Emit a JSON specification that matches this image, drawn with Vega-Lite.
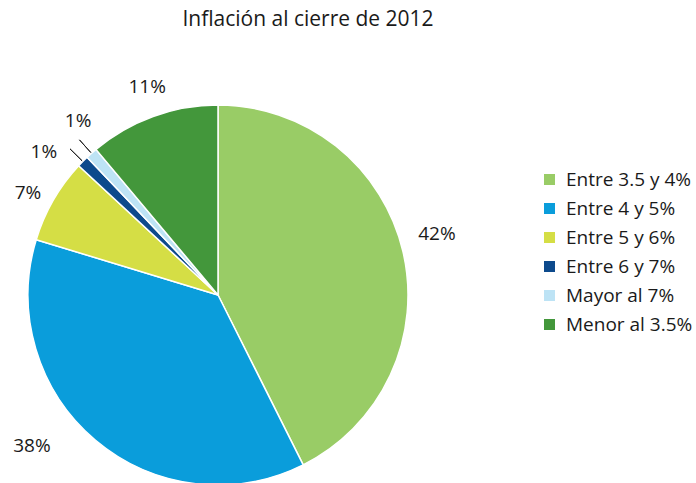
{
  "$schema": "https://vega.github.io/schema/vega-lite/v6.json",
  "width": 436,
  "height": 250,
  "autosize": {"type": "none"},
  "padding": {"left": 0, "top": 170, "right": 260, "bottom": 63},
  "background": "white",
  "config": {"view": {"stroke": null}, "font": "Open Sans"},
  "title": {
    "text": "Inflación al cierre de 2012",
    "fontSize": 21,
    "fontWeight": "normal",
    "color": "#1a1a1a",
    "anchor": "middle",
    "frame": "group",
    "offset": 24,
    "dx": 90
  },
  "data": {
    "values": [
      {"idx": 1, "cat": "Entre 3.5 y 4%", "value": 42.6, "label": "42%"},
      {"idx": 2, "cat": "Entre 4 y 5%", "value": 37.1, "label": "38%"},
      {"idx": 3, "cat": "Entre 5 y 6%", "value": 7.2, "label": "7%"},
      {"idx": 4, "cat": "Entre 6 y 7%", "value": 1.0, "label": "1%"},
      {"idx": 5, "cat": "Mayor al 7%", "value": 1.0, "label": "1%"},
      {"idx": 6, "cat": "Menor al 3.5%", "value": 11.1, "label": "11%"}
    ]
  },
  "layer": [
    {
      "mark": {"type": "arc", "outerRadius": 190, "stroke": "white", "strokeWidth": 1.5},
      "encoding": {
        "theta": {"field": "value", "type": "quantitative", "stack": true},
        "order": {"field": "idx", "type": "quantitative"},
        "color": {
          "field": "cat",
          "type": "nominal",
          "sort": null,
          "scale": {
            "domain": ["Entre 3.5 y 4%", "Entre 4 y 5%", "Entre 5 y 6%", "Entre 6 y 7%", "Mayor al 7%", "Menor al 3.5%"],
            "range": ["#99cc66", "#0a9ddb", "#d5de45", "#0d4a8c", "#bde3f5", "#43973b"]
          },
          "legend": {
            "title": null,
            "orient": "right",
            "offset": 104,
            "padding": 0,
            "symbolType": "square",
            "symbolSize": 121,
            "symbolStrokeWidth": 0,
            "labelFontSize": 19,
            "labelColor": "#1a1a1a",
            "labelOffset": 7,
            "rowPadding": 9,
            "labelLimit": 300
          }
        }
      }
    },
    {
      "mark": {"type": "arc", "innerRadius": 191, "outerRadius": 208, "padAngle": 0.3, "fill": null, "stroke": "#222222", "strokeWidth": 1},
      "encoding": {
        "theta": {"field": "value", "type": "quantitative", "stack": true},
        "order": {"field": "idx", "type": "quantitative"},
        "detail": {"field": "cat", "type": "nominal"},
        "strokeOpacity": {
          "condition": {"test": "datum.cat === 'Entre 6 y 7%' || datum.cat === 'Mayor al 7%'", "value": 1},
          "value": 0
        }
      }
    },
    {
      "mark": {"type": "text", "radius": 225, "fontSize": 19, "color": "#1a1a1a", "align": "center", "baseline": "middle", "dy": -9},
      "encoding": {
        "theta": {"field": "value", "type": "quantitative", "stack": true},
        "order": {"field": "idx", "type": "quantitative"},
        "detail": {"field": "cat", "type": "nominal"},
        "text": {"condition": {"test": "datum.cat === 'Entre 3.5 y 4%'", "field": "label"}, "value": ""}
      }
    },
    {
      "mark": {"type": "text", "radius": 225, "fontSize": 19, "color": "#1a1a1a", "align": "center", "baseline": "middle", "dx": -41, "dy": -21},
      "encoding": {
        "theta": {"field": "value", "type": "quantitative", "stack": true},
        "order": {"field": "idx", "type": "quantitative"},
        "detail": {"field": "cat", "type": "nominal"},
        "text": {"condition": {"test": "datum.cat === 'Entre 4 y 5%'", "field": "label"}, "value": ""}
      }
    },
    {
      "mark": {"type": "text", "radius": 225, "fontSize": 19, "color": "#1a1a1a", "align": "center", "baseline": "middle", "dx": 5, "dy": 10},
      "encoding": {
        "theta": {"field": "value", "type": "quantitative", "stack": true},
        "order": {"field": "idx", "type": "quantitative"},
        "detail": {"field": "cat", "type": "nominal"},
        "text": {"condition": {"test": "datum.cat === 'Entre 5 y 6%'", "field": "label"}, "value": ""}
      }
    },
    {
      "mark": {"type": "text", "radius": 225, "fontSize": 19, "color": "#1a1a1a", "align": "center", "baseline": "middle", "dx": -14, "dy": 15},
      "encoding": {
        "theta": {"field": "value", "type": "quantitative", "stack": true},
        "order": {"field": "idx", "type": "quantitative"},
        "detail": {"field": "cat", "type": "nominal"},
        "text": {"condition": {"test": "datum.cat === 'Entre 6 y 7%'", "field": "label"}, "value": ""}
      }
    },
    {
      "mark": {"type": "text", "radius": 225, "fontSize": 19, "color": "#1a1a1a", "align": "center", "baseline": "middle", "dx": 10, "dy": -6},
      "encoding": {
        "theta": {"field": "value", "type": "quantitative", "stack": true},
        "order": {"field": "idx", "type": "quantitative"},
        "detail": {"field": "cat", "type": "nominal"},
        "text": {"condition": {"test": "datum.cat === 'Mayor al 7%'", "field": "label"}, "value": ""}
      }
    },
    {
      "mark": {"type": "text", "radius": 225, "fontSize": 19, "color": "#1a1a1a", "align": "center", "baseline": "middle", "dx": 6, "dy": 3},
      "encoding": {
        "theta": {"field": "value", "type": "quantitative", "stack": true},
        "order": {"field": "idx", "type": "quantitative"},
        "detail": {"field": "cat", "type": "nominal"},
        "text": {"condition": {"test": "datum.cat === 'Menor al 3.5%'", "field": "label"}, "value": ""}
      }
    }
  ]
}
